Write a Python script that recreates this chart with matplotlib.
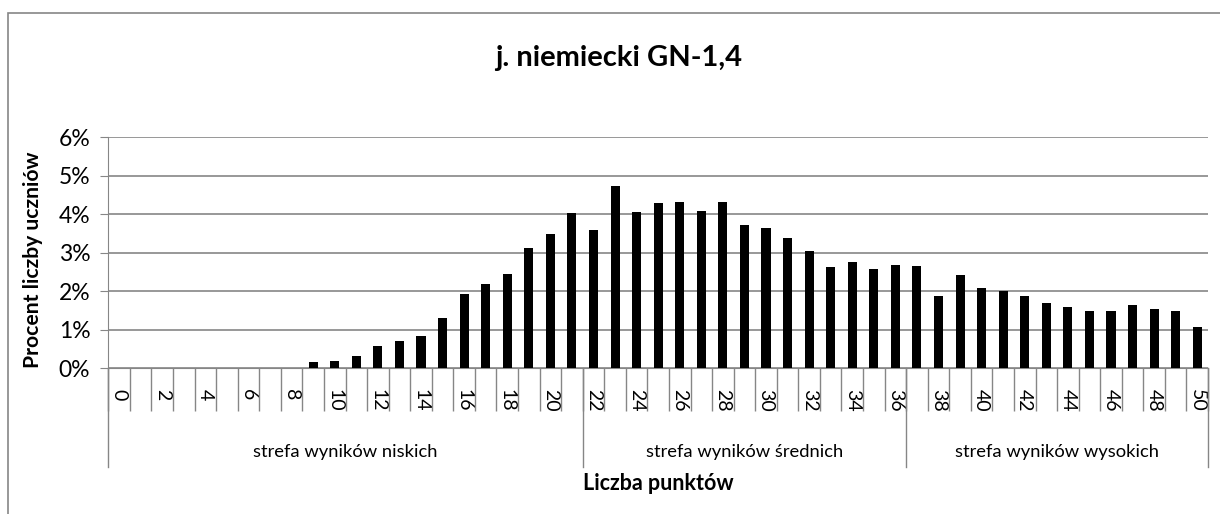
import matplotlib.pyplot as plt
import numpy as np
from matplotlib.ticker import PercentFormatter, FixedLocator
from matplotlib.patches import Rectangle

# data (percent of pupils per score)
points = list(range(0, 51))
percent = [0, 0.01, 0, 0, 0, 0, 0.01, 0, 0.01, 0.16,
           0.20, 0.32, 0.58, 0.71, 0.84, 1.31, 1.93, 2.19, 2.45, 3.13,
           3.49, 4.03, 3.59, 4.74, 4.06, 4.29, 4.32, 4.09, 4.32, 3.72,
           3.65, 3.39, 3.05, 2.63, 2.76, 2.58, 2.68, 2.66, 1.88, 2.42,
           2.09, 2.00, 1.88, 1.70, 1.59, 1.49, 1.49, 1.65, 1.54, 1.49,
           1.07]
zone_names = ['strefa wyników niskich', 'strefa wyników średnich', 'strefa wyników wysokich']
zone_start = [0, 22, 37]
zone_end = [21, 36, 50]

title = 'j. niemiecki GN-1,4'
ylab = 'Procent liczby uczniów'
xlab = 'Liczba punktów'

plt.rcParams['font.family'] = ['Lato', 'DejaVu Sans']
grey = '#868686'

fig = plt.figure(figsize=(12.2, 5.14), dpi=100)
ax = fig.add_axes([0.0888, 0.2835, 0.9014, 0.4495])

x = np.arange(len(points))
ax.bar(x, np.array(percent) / 100, width=0.42, color='black', zorder=3)

ax.set_xlim(-0.5, len(points) - 0.5)
ax.set_ylim(0, 0.06)
ax.set_yticks(np.arange(0, 0.061, 0.01))
ax.yaxis.set_major_formatter(PercentFormatter(1.0, decimals=0))
ax.grid(axis='y', color=grey, linewidth=1.2, zorder=0)
ax.tick_params(axis='y', direction='out', length=6, color=grey, labelsize=16.5, pad=7)

# x labels every second category, rotated like the original
ax.set_xticks(x[::2])
ax.set_xticklabels([str(p) for p in points[::2]], rotation=270, fontsize=14)
ax.tick_params(axis='x', which='major', length=0, pad=15)
ax.xaxis.set_minor_locator(FixedLocator(np.arange(-0.5, len(points), 1)))
ax.tick_params(axis='x', which='minor', direction='out', length=31, color=grey, width=1)

for s in ['top', 'right']:
    ax.spines[s].set_visible(False)
ax.spines['left'].set_color(grey)
ax.spines['bottom'].set_color(grey)

# zone separators and labels under the tick labels
trans = ax.get_xaxis_transform()
for s, e, name in zip(zone_start, zone_end, zone_names):
    ax.plot([s - 0.5, s - 0.5], [0, -0.427], color=grey, lw=1, transform=trans, clip_on=False)
    ax.text((s + e) / 2, -0.362, name, transform=trans, ha='center', va='center', fontsize=13.2)
ax.plot([zone_end[-1] + 0.5] * 2, [0, -0.427], color=grey, lw=1, transform=trans, clip_on=False)

fig.text(0.507, 0.888, title, ha='center', va='center', fontsize=21, fontweight='bold')
fig.text(0.027, 0.495, ylab, ha='center', va='center', rotation=90, fontsize=15.2, fontweight='bold')
ax.text(0.5, -0.497, xlab, transform=ax.transAxes, ha='center', va='center', fontsize=15.5, fontweight='bold')

# outer chart border (only left and top edges fall inside the picture)
fig.patches.append(Rectangle((8 / 1220, -0.1), 1.2, 1.1 - 13 / 514, transform=fig.transFigure,
                             fill=False, edgecolor=grey, lw=1.2))

fig.savefig('out.png', dpi=100)
